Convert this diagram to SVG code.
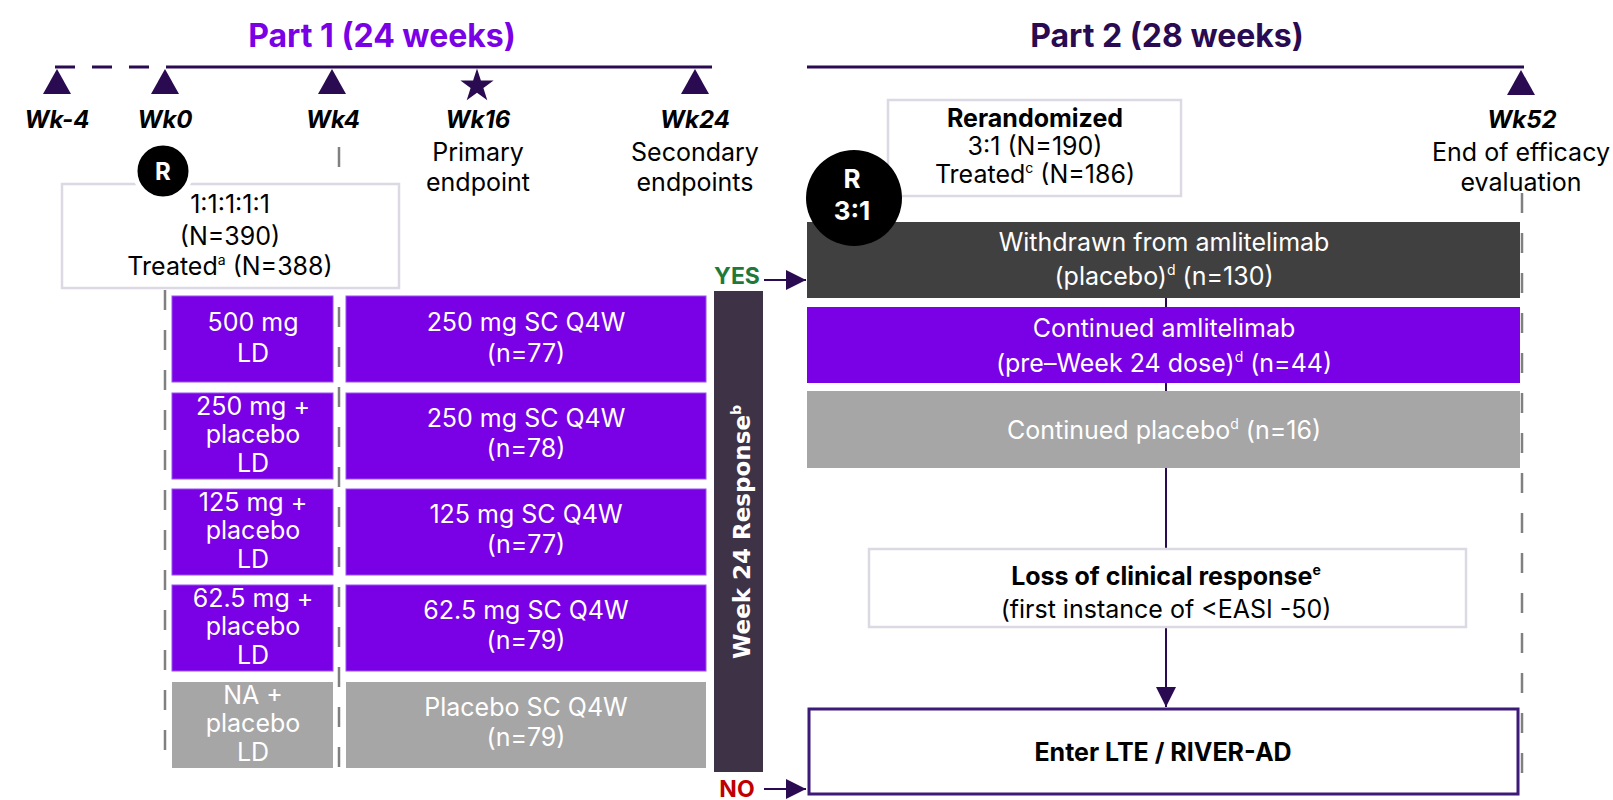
<svg xmlns="http://www.w3.org/2000/svg" width="1613" height="800" viewBox="0 0 1613 800">
<defs>
<style>
text{font-family:Inter,"Noto Sans","Liberation Sans",sans-serif;font-size:25px;fill:#000;text-anchor:middle}
.w{fill:#fff}
.b{font-weight:700}
.wk{font-weight:700;font-style:italic;font-size:24px}
.sup{font-size:14px}
.title{font-size:32px;font-weight:700}
.tri{fill:#2a0a50}
.dash{stroke:#808080;stroke-width:2.5;stroke-dasharray:20 20;fill:none}
.purple{fill:#7a00e6;stroke:#9a50f0;stroke-width:1}
.gray{fill:#a6a6a6}
.outline{fill:#fff;stroke:#dcd8e4;stroke-width:2.5}
.conn{stroke:#2a0a50;stroke-width:2;fill:none}
</style>
<marker id="ah" viewBox="0 0 20 20" refX="20" refY="10" markerWidth="20" markerHeight="20" markerUnits="userSpaceOnUse" orient="auto">
<path d="M0,0 L20,10 L0,20 Z" fill="#2a0a50"/>
</marker>
</defs>
<rect width="1613" height="800" fill="#fff"/>

<!-- Timeline -->
<g id="timeline">
<text class="title" x="382" y="47" style="fill:#7a00e6">Part 1 (24 weeks)</text>
<text class="title" x="1167" y="47" style="fill:#2a0a50">Part 2 (28 weeks)</text>
<line x1="55" y1="67" x2="184" y2="67" stroke="#2a0a50" stroke-width="3" stroke-dasharray="20 17"/>
<line x1="184" y1="67" x2="712" y2="67" stroke="#2a0a50" stroke-width="3"/>
<line x1="807" y1="67" x2="1524" y2="67" stroke="#2a0a50" stroke-width="3"/>
<polygon class="tri" points="57,69 71,94 43,94"/>
<polygon class="tri" points="165,69 179,94 151,94"/>
<polygon class="tri" points="332,69 346,94 318,94"/>
<polygon class="tri" points="477,68.5 480.9,80.6 493.6,80.6 483.4,88.1 487.3,100.2 477,92.7 466.7,100.2 470.6,88.1 460.4,80.6 473.1,80.6"/>
<polygon class="tri" points="695,69 709,94 681,94"/>
<polygon class="tri" points="1521,70 1535,95 1507,95"/>
<text class="wk" x="57" y="128">Wk-4</text>
<text class="wk" x="165" y="128">Wk0</text>
<text class="wk" x="333" y="128">Wk4</text>
<text class="wk" x="478" y="128">Wk16</text>
<text x="478" y="161">Primary</text>
<text x="478" y="191">endpoint</text>
<text class="wk" x="695" y="128">Wk24</text>
<text x="695" y="161">Secondary</text>
<text x="695" y="191">endpoints</text>
<text class="wk" x="1522" y="128">Wk52</text>
<text x="1521" y="161">End of efficacy</text>
<text x="1521" y="191">evaluation</text>
</g>

<!-- Dashed guide lines -->
<g id="guides">
<line class="dash" x1="165" y1="290" x2="165" y2="768"/>
<line class="dash" x1="339" y1="147" x2="339" y2="768"/>
<line class="dash" x1="1522" y1="193" x2="1522" y2="792"/>
</g>

<!-- Connectors -->
<g id="connectors">
<line class="conn" x1="1166" y1="298" x2="1166" y2="549"/>
<line class="conn" x1="1166" y1="627" x2="1166" y2="707" marker-end="url(#ah)"/>
<line class="conn" x1="764" y1="280" x2="806" y2="280" marker-end="url(#ah)"/>
<line class="conn" x1="764" y1="789" x2="806" y2="789" marker-end="url(#ah)"/>
</g>

<g id="rand1">
<rect class="outline" x="62" y="184" width="337" height="104"/>
<text x="230" y="213">1:1:1:1:1</text>
<text x="230" y="245">(N=390)</text>
<text x="230" y="275">Treated<tspan class="sup" dy="-10">a</tspan><tspan dy="10"> (N=388)</tspan></text>
<circle cx="163" cy="171" r="28" fill="#000" stroke="#fff" stroke-width="5"/>
<text class="b w" x="163" y="180" style="font-size:24px">R</text>
</g>

<g id="ld1"><rect class="purple" x="172" y="296" width="161" height="86"/><text class="w" x="253" y="331">500 mg</text><text class="w" x="253" y="362">LD</text></g>
<g id="ld2"><rect class="purple" x="172" y="393" width="161" height="86"/><text class="w" x="253" y="415">250 mg +</text><text class="w" x="253" y="443">placebo</text><text class="w" x="253" y="472">LD</text></g>
<g id="ld3"><rect class="purple" x="172" y="489" width="161" height="86"/><text class="w" x="253" y="511">125 mg +</text><text class="w" x="253" y="539">placebo</text><text class="w" x="253" y="568">LD</text></g>
<g id="ld4"><rect class="purple" x="172" y="585" width="161" height="86"/><text class="w" x="253" y="607">62.5 mg +</text><text class="w" x="253" y="635">placebo</text><text class="w" x="253" y="664">LD</text></g>
<g id="ld5"><rect class="gray" x="172" y="682" width="161" height="86"/><text class="w" x="253" y="704">NA +</text><text class="w" x="253" y="732">placebo</text><text class="w" x="253" y="761">LD</text></g>

<g id="m1"><rect class="purple" x="346" y="296" width="360" height="86"/><text class="w" x="526" y="331">250 mg SC Q4W</text><text class="w" x="526" y="362">(n=77)</text></g>
<g id="m2"><rect class="purple" x="346" y="393" width="360" height="86"/><text class="w" x="526" y="427">250 mg SC Q4W</text><text class="w" x="526" y="457">(n=78)</text></g>
<g id="m3"><rect class="purple" x="346" y="489" width="360" height="86"/><text class="w" x="526" y="523">125 mg SC Q4W</text><text class="w" x="526" y="553">(n=77)</text></g>
<g id="m4"><rect class="purple" x="346" y="585" width="360" height="86"/><text class="w" x="526" y="619">62.5 mg SC Q4W</text><text class="w" x="526" y="649">(n=79)</text></g>
<g id="m5"><rect class="gray" x="346" y="682" width="360" height="86"/><text class="w" x="526" y="716">Placebo SC Q4W</text><text class="w" x="526" y="746">(n=79)</text></g>

<g id="resp">
<rect x="714" y="291" width="49" height="481" fill="#3e3247"/>
<text class="w" transform="translate(750,532) rotate(-90)" style="font-family:'DejaVu Sans',sans-serif;font-weight:700;font-size:23px">Week 24 Response<tspan class="sup" dy="-9">b</tspan></text>
<text x="737" y="284" class="b" style="fill:#1f7a3a;font-size:23px">YES</text>
<text x="737" y="797" class="b" style="fill:#c00000;font-size:23px">NO</text>
</g>

<g id="rerand">
<rect class="outline" x="888" y="100" width="293" height="96"/>
<text class="b" x="1035" y="127">Rerandomized</text>
<text x="1035" y="155">3:1 (N=190)</text>
<text x="1035" y="183">Treated<tspan class="sup" dy="-10">c</tspan><tspan dy="10"> (N=186)</tspan></text>
</g>

<g id="withdrawn">
<rect x="807" y="222" width="713" height="76" fill="#404040"/>
<text class="w" x="1164" y="251">Withdrawn from amlitelimab</text>
<text class="w" x="1164" y="285">(placebo)<tspan class="sup" dy="-10">d</tspan><tspan dy="10"> (n=130)</tspan></text>
</g>

<g id="r2">
<circle cx="854" cy="198" r="48" fill="#000"/>
<text class="b w" x="852" y="188" style="font-size:26px">R</text>
<text class="b w" x="852" y="220" style="font-size:26px">3:1</text>
</g>

<g id="contaml">
<rect x="807" y="307" width="713" height="76" fill="#7a00e6"/>
<text class="w" x="1164" y="337">Continued amlitelimab</text>
<text class="w" x="1164" y="372">(pre–Week 24 dose)<tspan class="sup" dy="-10">d</tspan><tspan dy="10"> (n=44)</tspan></text>
</g>

<g id="contpbo">
<rect x="807" y="391" width="713" height="77" fill="#a6a6a6"/>
<text class="w" x="1164" y="439">Continued placebo<tspan class="sup" dy="-10">d</tspan><tspan dy="10"> (n=16)</tspan></text>
</g>

<g id="loss">
<rect class="outline" x="869" y="549" width="597" height="78"/>
<text class="b" x="1166" y="585">Loss of clinical response<tspan class="sup" dy="-10">e</tspan></text>
<text x="1166" y="618">(first instance of &lt;EASI -50)</text>
</g>

<g id="lte">
<rect x="809" y="709" width="709" height="85" fill="#fff" stroke="#3c1a78" stroke-width="3"/>
<text class="b" x="1163" y="761">Enter LTE / RIVER-AD</text>
</g>
</svg>
